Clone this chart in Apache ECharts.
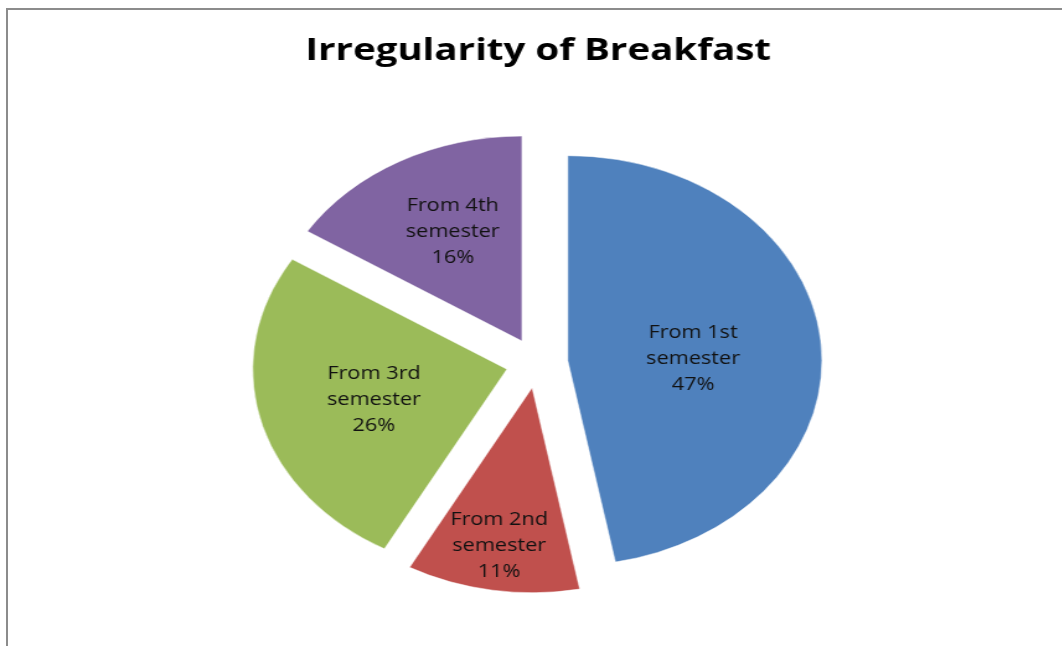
<!DOCTYPE html>
<html>
<head>
<meta charset="utf-8">
<title>Irregularity of Breakfast</title>
<script src="https://cdn.jsdelivr.net/npm/echarts@6/dist/echarts.min.js"></script>
<style>
  html, body { margin: 0; padding: 0; background: #ffffff; overflow: hidden; }
  body { width: 1062px; height: 646px; position: relative; }
  /* the chart is drawn on a narrower canvas and widened, giving an oval pie */
  #chart {
    position: absolute; left: 0; top: 0;
    width: 857px; height: 646px;
    transform: scaleX(1.24); transform-origin: 0 0;
  }
  #frame {
    position: absolute; left: 6px; top: 8px; width: 1200px; height: 800px;
    border-left: 2px solid #8c8c8c; border-top: 2px solid #8c8c8c;
    pointer-events: none;
  }
</style>
</head>
<body>
<div id="chart"></div>
<div id="frame"></div>
<script>
// Semester from which breakfast became irregular, share of respondents (%)
const categories = ['From 1st semester', 'From 2nd semester', 'From 3rd semester', 'From 4th semester'];
const shares = [47, 11, 26, 16];
const colors = ['#4F81BD', '#C0504D', '#9BBB59', '#8064A2'];

// small nudges for the slice labels (px on the unstretched canvas)
const labelNudge = [[-4, 8], [-10, 54], [-5, 5], [-5, -17]];

const chart = echarts.init(document.getElementById('chart'), null, { renderer: 'canvas' });

chart.setOption({
  backgroundColor: 'transparent',
  animation: false,
  title: {
    text: 'Irregularity of Breakfast',
    left: 434,
    top: 36,
    padding: 0,
    textAlign: 'center',
    textStyle: {
      fontFamily: '"Open Sans", sans-serif',
      fontWeight: 'bold',
      fontSize: 31,
      color: '#000000'
    }
  },
  series: [{
    type: 'pie',
    center: [433, 363],
    radius: [0, 205],
    startAngle: 90,
    clockwise: true,
    selectedMode: 'multiple',
    selectedOffset: 25,
    avoidLabelOverlap: false,
    emphasis: { disabled: true },
    label: {
      show: true,
      position: 'inside',
      fontFamily: '"Open Sans", sans-serif',
      fontSize: 17.5,
      lineHeight: 26,
      color: '#111111',
      align: 'center',
      formatter: p => p.name.replace(' semester', '\nsemester') + '\n' + p.value + '%'
    },
    labelLine: { show: false },
    labelLayout: p => ({ dx: labelNudge[p.dataIndex][0], dy: labelNudge[p.dataIndex][1] }),
    itemStyle: { borderColor: '#ffffff', borderWidth: 0.5 },
    data: categories.map((name, i) => ({
      name: name,
      value: shares[i],
      selected: true,
      itemStyle: { color: colors[i] }
    }))
  }]
});
</script>
</body>
</html>
